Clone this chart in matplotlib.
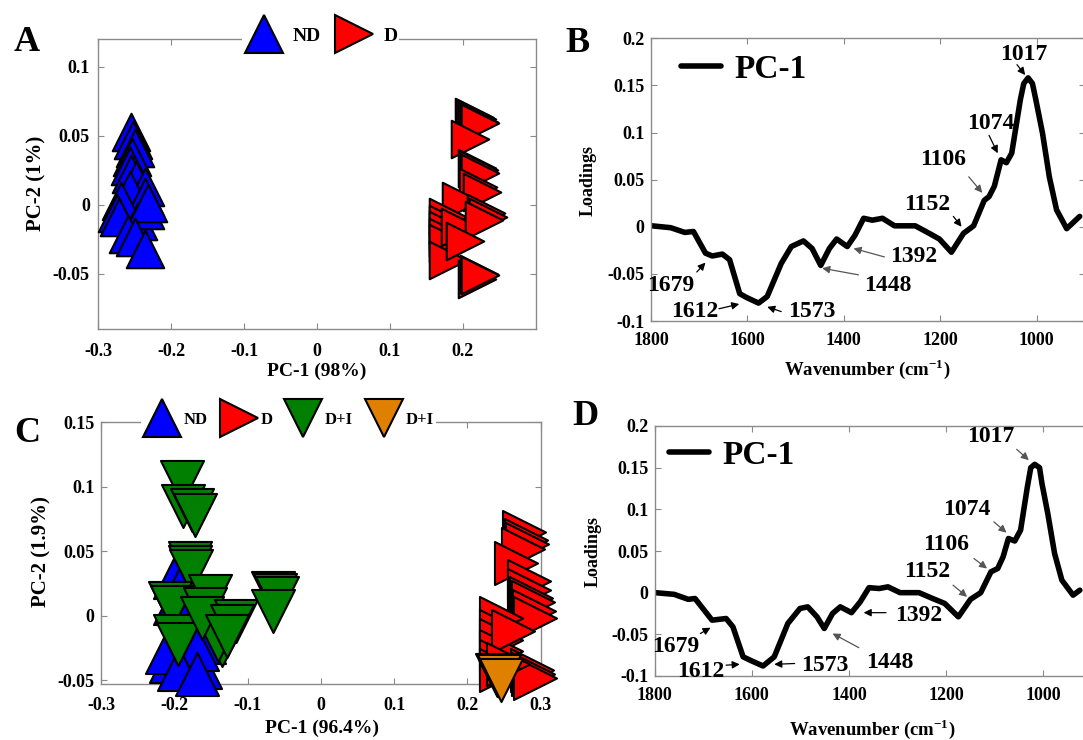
import matplotlib
matplotlib.use("Agg")
import matplotlib.pyplot as plt
from matplotlib.lines import Line2D

plt.rcParams["font.family"] = ["Liberation Serif", "DejaVu Serif"]
plt.rcParams["font.weight"] = "bold"
plt.rcParams["mathtext.fontset"] = "custom"
plt.rcParams["mathtext.rm"] = "Liberation Serif:bold"
plt.rcParams["mathtext.bf"] = "Liberation Serif:bold"

# ---- panel A scores ----
nd_a_x = [-0.255, -0.252, -0.250, -0.253, -0.257, -0.255, -0.248, -0.236, -0.256, -0.236,
          -0.269, -0.274, -0.271, -0.245, -0.236, -0.232, -0.259, -0.250, -0.236]
nd_a_y = [0.053, 0.047, 0.041, 0.035, 0.028, 0.022, 0.018, 0.013, 0.011, 0.006,
          0.003, -0.006, -0.009, -0.012, -0.004, 0.001, -0.021, -0.023, -0.032]
d_a_x = [0.215, 0.217, 0.219, 0.222, 0.224, 0.210, 0.219, 0.222, 0.224, 0.221, 0.226,
         0.198, 0.179, 0.179, 0.179, 0.179, 0.179, 0.179, 0.196, 0.231, 0.234, 0.229,
         0.203, 0.219, 0.222, 0.224]
d_a_y = [0.064, 0.063, 0.062, 0.060, 0.059, 0.048, 0.027, 0.025, 0.023, 0.013, 0.009,
         0.003, -0.009, -0.014, -0.018, -0.023, -0.028, -0.040, -0.016, -0.006, -0.009, -0.011,
         -0.026, -0.054, -0.050, -0.051]

# ---- panel C scores ----
nd_c_x = [-0.180, -0.200, -0.190, -0.160, -0.205, -0.185, -0.175, -0.165, -0.190, -0.210,
          -0.170, -0.194, -0.170, -0.200]
nd_c_y = [0.000, 0.030, 0.025, -0.020, -0.035, -0.038, -0.032, -0.040, -0.020, -0.028,
          -0.026, -0.041, -0.045, 0.010]
d_c_x = [0.278, 0.280, 0.282, 0.276, 0.267, 0.284, 0.284, 0.287, 0.290, 0.291, 0.292,
         0.246, 0.246, 0.246, 0.246, 0.246, 0.246, 0.262, 0.288, 0.290, 0.292, 0.255]
d_c_y = [0.065, 0.059, 0.056, 0.052, 0.041, 0.027, 0.020, 0.014, 0.011, 0.004, -0.002,
         -0.002, -0.012, -0.019, -0.027, -0.035, -0.042, -0.012, -0.042, -0.045, -0.048, -0.037]
di_c_x = [-0.190, -0.189, -0.176, -0.172, -0.179, -0.179, -0.177, -0.206, -0.203, -0.200,
          -0.195, -0.135, -0.140, -0.151, -0.158, -0.162, -0.116, -0.121, -0.129,
          -0.066, -0.063, -0.060, -0.066]
di_c_y = [0.104, 0.085, 0.082, 0.078, 0.041, 0.038, 0.035, 0.010, 0.007, -0.016,
          -0.022, -0.023, -0.019, 0.015, 0.005, -0.002, -0.004, -0.008, -0.016,
          0.018, 0.016, 0.014, 0.004]
di2_c_x = [0.240, 0.243, 0.246]
di2_c_y = [-0.046, -0.047, -0.050]

# ---- panel B loadings ----
wn_b = [1798, 1759, 1730, 1712, 1687, 1673, 1652, 1637, 1616, 1602, 1577, 1559, 1530, 1509,
        1484, 1466, 1448, 1430, 1415, 1393, 1377, 1359, 1341, 1320, 1295, 1252, 1223, 1202,
        1177, 1152, 1131, 1109, 1099, 1088, 1074, 1063, 1052, 1034, 1027, 1018, 1009, 1002,
        988, 974, 959, 938, 911]
load_b = [0.001, -0.001, -0.006, -0.005, -0.028, -0.031, -0.029, -0.035, -0.071, -0.075,
          -0.081, -0.074, -0.039, -0.021, -0.015, -0.023, -0.041, -0.023, -0.013, -0.021,
          -0.009, 0.009, 0.007, 0.009, 0.001, 0.001, -0.007, -0.013, -0.027, -0.007, 0.001,
          0.028, 0.032, 0.043, 0.071, 0.068, 0.078, 0.135, 0.152, 0.158, 0.152, 0.135,
          0.099, 0.053, 0.018, -0.002, 0.011]

# ---- panel D loadings ----
wn_d = [1799, 1760, 1731, 1717, 1682, 1653, 1639, 1618, 1600, 1577, 1554, 1526, 1501, 1485,
        1466, 1451, 1434, 1418, 1395, 1377, 1359, 1338, 1320, 1295, 1256, 1228, 1203, 1175,
        1150, 1129, 1108, 1094, 1083, 1072, 1059, 1047, 1033, 1026, 1018, 1008, 1003, 991,
        977, 962, 939, 925]
load_d = [0.000, -0.002, -0.008, -0.007, -0.033, -0.031, -0.041, -0.077, -0.082, -0.088,
          -0.077, -0.037, -0.019, -0.017, -0.029, -0.043, -0.025, -0.017, -0.024, -0.011,
          0.006, 0.005, 0.007, 0.000, 0.000, -0.007, -0.013, -0.029, -0.008, 0.000, 0.025,
          0.029, 0.043, 0.065, 0.062, 0.075, 0.127, 0.150, 0.154, 0.150, 0.131, 0.095,
          0.047, 0.015, -0.003, 0.003]

# peak labels: (text, text position, arrow tail, arrow head, thin grey arrow)
peaks_b = [
    ("1017", (1027, 0.183), (1041, 0.172), (1024, 0.161), False),
    ("1074", (1095, 0.110), (1099, 0.097), (1081, 0.078), False),
    ("1106", (1195, 0.071), (1141, 0.053), (1113, 0.036), True),
    ("1152", (1227, 0.024), (1173, 0.011), (1156, 0.000), False),
    ("1392", (1256, -0.032), (1316, -0.032), (1380, -0.023), True),
    ("1448", (1309, -0.062), (1370, -0.051), (1445, -0.044), True),
    ("1573", (1466, -0.090), (1530, -0.090), (1559, -0.085), False),
    ("1612", (1709, -0.090), (1659, -0.087), (1617, -0.082), False),
    ("1679", (1759, -0.062), (1705, -0.048), (1687, -0.038), False),
]
peaks_d = [
    ("1017", (1108, 0.187), (1055, 0.172), (1030, 0.159), True),
    ("1074", (1157, 0.100), (1102, 0.085), (1076, 0.072), True),
    ("1106", (1200, 0.058), (1143, 0.041), (1116, 0.029), True),
    ("1152", (1239, 0.025), (1186, 0.009), (1157, -0.005), True),
    ("1392", (1256, -0.027), (1324, -0.024), (1370, -0.024), False),
    ("1448", (1317, -0.084), (1380, -0.066), (1434, -0.049), True),
    ("1573", (1449, -0.087), (1512, -0.085), (1554, -0.086), False),
    ("1612", (1706, -0.095), (1653, -0.087), (1625, -0.086), False),
    ("1679", (1756, -0.065), (1706, -0.049), (1685, -0.042), False),
]

W, H = 1083, 740
fig = plt.figure(figsize=(W / 100, H / 100), dpi=100)


def box(l, t, r, b):
    return [l / W, 1 - b / H, (r - l) / W, (b - t) / H]


def style_axes(ax, ypad):
    for s in ax.spines.values():
        s.set_color("#8a8a8a")
        s.set_linewidth(1.0)
    ax.tick_params(direction="in", length=4, width=0.8, color="#8a8a8a",
                   top=True, right=True, labelsize=13)
    ax.tick_params(axis="y", pad=ypad)


def ftext(x, y, s, **kw):
    fig.text(x / W, 1 - y / H, s, ha="center", va="center", fontweight="bold", **kw)


def scatter(ax, x, y, marker, color, size):
    ax.scatter(x, y, s=size ** 2, marker=marker, facecolor=color, edgecolor="black",
               linewidths=1.5, clip_on=False, zorder=3)


def handle(marker, color):
    return Line2D([], [], ls="none", marker=marker, ms=27, mfc=color, mec="black", mew=1.5)


# ---- A ----
axA = fig.add_axes(box(98.2, 39.3, 535.5, 328.9))
scatter(axA, nd_a_x, nd_a_y, "^", "#0000ff", 27)
scatter(axA, d_a_x, d_a_y, ">", "#ff0000", 27)
axA.set_xlim(-0.3, 0.2995)
axA.set_ylim(-0.09, 0.12)
axA.set_xticks([-0.3, -0.2, -0.1, 0, 0.1, 0.2])
axA.set_xticklabels(["-0.3", "-0.2", "-0.1", "0", "0.1", "0.2"])
axA.set_yticks([-0.05, 0, 0.05, 0.1])
axA.set_yticklabels(["-0.05", "0", "0.05", "0.1"])
style_axes(axA, 6)
axA.tick_params(axis="x", pad=10)
legA = axA.legend([handle("^", "#0000ff"), handle(">", "#ff0000")], ["ND", "D"],
                  loc="center", bbox_to_anchor=(0.509, 1.011), ncol=2,
                  fontsize=14, frameon=True, facecolor="white", edgecolor="none",
                  framealpha=1, fancybox=False, handlelength=2.0, handletextpad=0.5,
                  columnspacing=0.7, borderpad=0.1, borderaxespad=0)
legA.set_zorder(5)

# ---- C ----
axC = fig.add_axes(box(101.4, 422.3, 540.5, 684.2))
scatter(axC, nd_c_x, nd_c_y, "^", "#0000ff", 31)
scatter(axC, d_c_x, d_c_y, ">", "#ff0000", 31)
scatter(axC, di_c_x, di_c_y, "v", "#007f00", 31)
scatter(axC, di2_c_x, di2_c_y, "v", "#e08000", 31)
axC.set_xlim(-0.3, 0.3)
axC.set_ylim(-0.053, 0.15)
axC.set_xticks([-0.3, -0.2, -0.1, 0, 0.1, 0.2, 0.3])
axC.set_xticklabels(["-0.3", "-0.2", "-0.1", "0", "0.1", "0.2", "0.3"])
axC.set_yticks([-0.05, 0, 0.05, 0.1, 0.15])
axC.set_yticklabels(["-0.05", "0", "0.05", "0.1", "0.15"])
style_axes(axC, 5)
axC.tick_params(axis="x", pad=9)
legC = axC.legend([handle("^", "#0000ff"), handle(">", "#ff0000"),
                   handle("v", "#007f00"), handle("v", "#e08000")],
                  ["ND", "D", "D+I", "D+I"], loc="center", bbox_to_anchor=(0.426, 1.01),
                  ncol=4, fontsize=12, frameon=True, facecolor="white", edgecolor="none",
                  framealpha=1, fancybox=False, handlelength=2.3, handletextpad=0.15,
                  columnspacing=0.7, borderpad=0.1, borderaxespad=0)
legC.set_zorder(5)


def loading_panel(ax, wn, vals, peaks, leg_xy):
    ax.plot(wn, vals, color="black", lw=4.0, solid_joinstyle="round",
            solid_capstyle="round", label="PC-1")
    ax.set_xlim(1800, 900)
    ax.set_ylim(-0.1, 0.2)
    ax.set_xticks([1800, 1600, 1400, 1200, 1000])
    ax.set_yticks([-0.1, -0.05, 0, 0.05, 0.1, 0.15, 0.2])
    ax.set_yticklabels(["-0.1", "-0.05", "0", "0.05", "0.1", "0.15", "0.2"])
    style_axes(ax, 4.5)
    ax.tick_params(axis="x", pad=8)
    ax.legend(loc="center left", bbox_to_anchor=leg_xy, frameon=False, fontsize=24,
              handlelength=1.2, handletextpad=0.4, borderpad=0, borderaxespad=0)
    for label, txt, tail, head, grey in peaks:
        ax.text(txt[0], txt[1], label, ha="center", va="center", fontsize=17,
                fontweight="bold", zorder=4)
        col = "#555555" if grey else "black"
        ax.annotate("", xy=head, xytext=tail,
                    arrowprops=dict(arrowstyle="-|>", color=col, lw=0.9,
                                    mutation_scale=11, shrinkA=0, shrinkB=0))


axB = fig.add_axes(box(651, 38.3, 1085, 321))
loading_panel(axB, wn_b, load_b, peaks_b, (0.07, 0.890))
axD = fig.add_axes(box(654.7, 426, 1092, 676))
loading_panel(axD, wn_d, load_d, peaks_d, (0.033, 0.884))

# axis titles and panel letters
ftext(316.8, 371, "PC-1 (98%)", fontsize=14)
ftext(36, 183, "PC-2 (1%)", fontsize=15, rotation=90)
ftext(588, 180, "Loadings", fontsize=13, rotation=90)
ftext(867, 369, r"Wavenumber (cm$^{-1}$)", fontsize=13.5)
ftext(322, 728, "PC-1 (96.4%)", fontsize=14)
ftext(41.3, 551.7, "PC-2 (1.9%)", fontsize=15, rotation=90)
ftext(593, 551.7, "Loadings", fontsize=13, rotation=90)
ftext(872, 729, r"Wavenumber (cm$^{-1}$)", fontsize=13.5)
ftext(27, 42.7, "A", fontsize=26)
ftext(577, 43.3, "B", fontsize=26)
ftext(27.5, 433.3, "C", fontsize=26)
ftext(585, 416.7, "D", fontsize=26)

fig.savefig("out.png", dpi=100)
